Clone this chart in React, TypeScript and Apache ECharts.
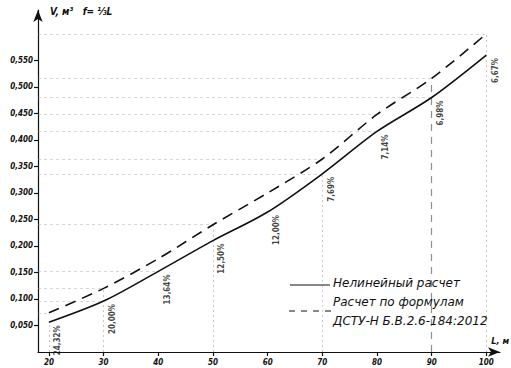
import React, { useEffect, useRef } from "react";
import * as echarts from "echarts";

const spans = [20, 30, 40, 50, 60, 70, 80, 90, 100];
const nonlinear = [0.056, 0.096, 0.152, 0.21, 0.264, 0.336, 0.416, 0.48, 0.56];
const formula = [0.074, 0.12, 0.176, 0.24, 0.3, 0.364, 0.448, 0.516, 0.6];
const pctLabels = ["24,32%", "20,00%", "13,64%", "12,50%", "12,00%", "7,69%", "7,14%", "6,98%", "6,67%"];
const yTicks = [0.05, 0.1, 0.15, 0.2, 0.25, 0.3, 0.35, 0.4, 0.45, 0.5, 0.55];
// which points have horizontal guide lines to the V axis
const hGuideFormula = [20, 30, 50, 70, 80, 90, 100];
const hGuideNonlinear = [30, 40, 70, 80, 90];
// vertical guides: [span, series] ("n" nonlinear, "f" formula)
const vGuides: [number, string][] = [[20, "n"], [30, "f"], [50, "f"], [70, "n"], [100, "f"]];
const vGuideStrong = [90];

const X_MIN = 18;
const X_MAX = 102.5;
const FONT = "'DejaVu Sans Condensed', 'DejaVu Sans', sans-serif";
const FONT_W = "'DejaVu Sans', sans-serif";

export default function App() {
  const ref = useRef<HTMLDivElement>(null);
  useEffect(() => {
    if (!ref.current) return;
    const chart = echarts.init(ref.current, null, { renderer: "svg" });
    const valOf = (x: number, s: string) => {
      const i = spans.indexOf(x);
      return s === "n" ? nonlinear[i] : formula[i];
    };
    const hLines = [
      ...hGuideFormula.map((x) => ({ coords: [[X_MIN, valOf(x, "f")], [x, valOf(x, "f")]] })),
      ...hGuideNonlinear.map((x) => ({ coords: [[X_MIN, valOf(x, "n")], [x, valOf(x, "n")]] })),
    ];
    const vLines = vGuides.map(([x, s]) => ({ coords: [[x, 0], [x, valOf(x, s)]] }));
    const vStrong = vGuideStrong.map((x) => ({ coords: [[x, 0], [x, valOf(x, "f")]] }));

    chart.setOption({
      animation: false,
      backgroundColor: "#ffffff",
      grid: { left: 38, right: 11, top: 10, bottom: 16, containLabel: false, outerBoundsMode: "none" },
      xAxis: {
        type: "value",
        min: X_MIN,
        max: X_MAX,
        axisLine: { show: true, lineStyle: { color: "#111", width: 1.2 }, symbol: ["none", "arrow"], symbolSize: [7, 12] },
        axisTick: { show: true, length: 4, customValues: spans, lineStyle: { color: "#111", width: 1.2 } },
        axisLabel: { customValues: spans, color: "#111", fontSize: 8, fontStyle: "italic", fontWeight: "bold", fontFamily: FONT, margin: 6 },
        splitLine: { show: false },
      },
      yAxis: {
        type: "value",
        min: 0,
        max: 0.645,
        axisLine: { show: true, lineStyle: { color: "#111", width: 1.2 }, symbol: ["none", "arrow"], symbolSize: [7, 12] },
        axisTick: { show: true, length: 4, customValues: yTicks, lineStyle: { color: "#111", width: 1.2 } },
        axisLabel: {
          customValues: yTicks,
          color: "#111",
          fontSize: 8,
          fontStyle: "italic",
          fontWeight: "bold",
          fontFamily: FONT,
          margin: 5,
          formatter: (v: number) => v.toFixed(3).replace(".", ","),
        },
        splitLine: { show: false },
      },
      series: [
        {
          type: "lines",
          coordinateSystem: "cartesian2d",
          silent: true,
          lineStyle: { color: "#9a9a9a", width: 0.8, type: [3, 3] },
          data: hLines,
          z: 1,
        },
        {
          type: "lines",
          coordinateSystem: "cartesian2d",
          silent: true,
          lineStyle: { color: "#777", width: 0.8, type: [2, 3] },
          data: vLines,
          z: 1,
        },
        {
          type: "lines",
          coordinateSystem: "cartesian2d",
          silent: true,
          lineStyle: { color: "#222", width: 1.2, type: [7, 6] },
          data: vStrong,
          z: 1,
        },
        {
          name: "Нелинейный расчет",
          type: "line",
          smooth: 0.3,
          showSymbol: false,
          data: spans.map((x, i) => [x, nonlinear[i]]),
          lineStyle: { color: "#111", width: 1.6 },
          z: 3,
        },
        {
          name: "Расчет по формулам ДСТУ-Н Б.В.2.6-184:2012",
          type: "line",
          smooth: 0.3,
          showSymbol: false,
          data: spans.map((x, i) => [x, formula[i]]),
          lineStyle: { color: "#111", width: 1.6, type: [11, 7] },
          z: 3,
        },
        {
          type: "scatter",
          symbolSize: 0,
          silent: true,
          data: spans.map((x, i) => [x, nonlinear[i]]),
          label: {
            show: true,
            rotate: 90,
            position: [5, 3],
            align: "right",
            verticalAlign: "top",
            formatter: (p: any) => pctLabels[p.dataIndex],
            color: "#111",
            fontSize: 8,
            fontWeight: "bold",
            fontFamily: FONT,
          },
          z: 4,
        },
      ],
      graphic: [
        {
          type: "text",
          left: 50,
          top: 6,
          style: { text: "V, м³   f= ⅓L", fill: "#111", fontSize: 10, fontStyle: "italic", fontWeight: "bold", fontFamily: FONT },
        },
        {
          type: "text",
          right: 2,
          top: 336,
          style: { text: "L, м", fill: "#111", fontSize: 9, fontStyle: "italic", fontWeight: "bold", fontFamily: FONT },
        },
        { type: "line", shape: { x1: 290, y1: 285, x2: 330, y2: 285 }, style: { stroke: "#111", lineWidth: 1.2 } },
        {
          type: "text",
          left: 333,
          top: 277,
          style: { text: "Нелинейный расчет", fill: "#111", fontSize: 12, fontStyle: "italic", fontFamily: FONT_W },
        },
        { type: "line", shape: { x1: 289, y1: 311, x2: 331, y2: 311 }, style: { stroke: "#111", lineWidth: 1.2, lineDash: [6, 6] } },
        {
          type: "text",
          left: 333,
          top: 296,
          style: { text: "Расчет по формулам", fill: "#111", fontSize: 12, fontStyle: "italic", fontFamily: FONT_W },
        },
        {
          type: "text",
          left: 333,
          top: 315,
          style: { text: "ДСТУ-Н Б.В.2.6-184:2012", fill: "#111", fontSize: 12, fontStyle: "italic", fontFamily: FONT_W },
        },
      ],
    });
    return () => chart.dispose();
  }, []);
  return <div ref={ref} style={{ width: 511, height: 368, position: "absolute", left: 0, top: 0 }} />;
}
